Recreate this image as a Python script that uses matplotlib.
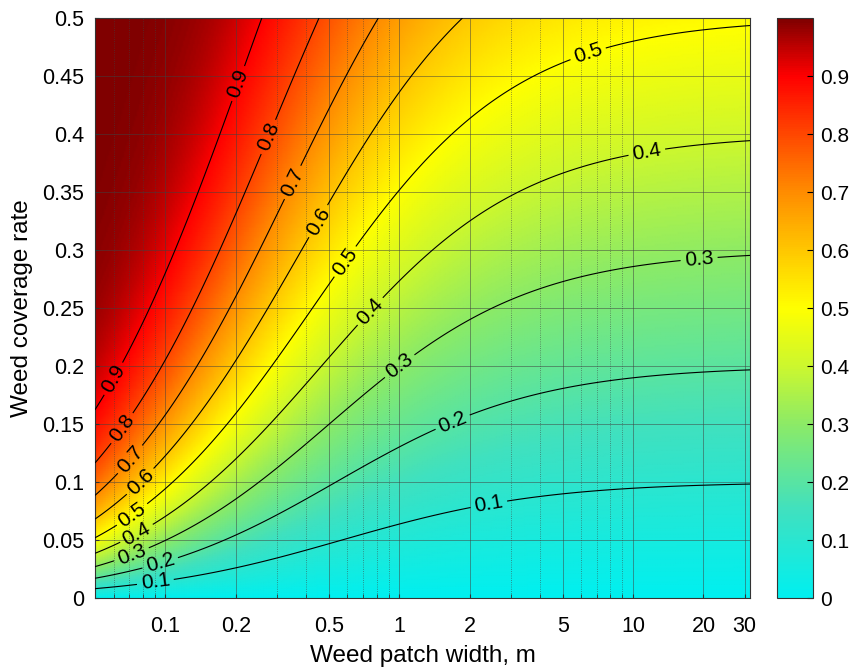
import numpy as np
import matplotlib
matplotlib.use('agg')
import matplotlib.pyplot as plt
from matplotlib.colors import LinearSegmentedColormap

plt.rcParams['font.family'] = ['Liberation Sans', 'DejaVu Sans']

# Model parameters: effective section width (m) and plotted ranges
section_width = 0.6
width_range = (0.05, 10 ** 1.5)
coverage_range = (0.0, 0.5)

contour_levels = [0.1, 0.2, 0.3, 0.4, 0.5, 0.6, 0.7, 0.8, 0.9]
x_ticks = [0.1, 0.2, 0.5, 1, 2, 5, 10, 20, 30]
x_tick_labels = ['0.1', '0.2', '0.5', '1', '2', '5', '10', '20', '30']
x_minor = [0.06, 0.07, 0.08, 0.09, 0.3, 0.4, 0.6, 0.7, 0.8, 0.9,
           3, 4, 6, 7, 8, 9]
y_ticks = [0, 0.05, 0.1, 0.15, 0.2, 0.25, 0.3, 0.35, 0.4, 0.45, 0.5]
y_tick_labels = ['0', '0.05', '0.1', '0.15', '0.2', '0.25', '0.3', '0.35', '0.4', '0.45', '0.5']
cbar_ticks = [0, 0.1, 0.2, 0.3, 0.4, 0.5, 0.6, 0.7, 0.8, 0.9]

# where the inline contour labels sit (width, coverage)
label_spots = [
    (0.215, 0.442), (0.295, 0.395), (0.369, 0.356), (0.506, 0.319),
    (0.616, 0.287), (0.81, 0.241), (1.03, 0.197), (1.73, 0.147), (2.44, 0.076),
    (6.5, 0.466), (11.5, 0.382), (19.2, 0.29),
    (0.0612, 0.188), (0.0689, 0.143), (0.073, 0.117), (0.082, 0.096),
    (0.072, 0.072), (0.078, 0.05), (0.073, 0.033), (0.097, 0.024), (0.091, 0.011),
]

cmap = LinearSegmentedColormap.from_list('weed', [
    (0.00, (0.00, 0.94, 0.94)),
    (0.15, (0.25, 0.88, 0.75)),
    (0.30, (0.55, 0.92, 0.40)),
    (0.40, (0.80, 0.97, 0.18)),
    (0.50, (1.00, 1.00, 0.00)),
    (0.60, (1.00, 0.78, 0.00)),
    (0.70, (1.00, 0.55, 0.00)),
    (0.80, (1.00, 0.28, 0.00)),
    (0.90, (1.00, 0.00, 0.00)),
    (1.00, (0.50, 0.00, 0.00)),
])

# work in log10(width) so the inline labels break the lines cleanly
lw = np.linspace(np.log10(width_range[0]), np.log10(width_range[1]), 400)
c = np.linspace(coverage_range[0], coverage_range[1], 300)
LW, C = np.meshgrid(lw, c)
P = 1 - (1 - C) ** (1 + section_width / 10 ** LW)

fig = plt.figure(figsize=(8.52, 6.70), dpi=100)
ax = fig.add_axes([95 / 852, 1 - 598 / 670, 655 / 852, 580 / 670])
cax = fig.add_axes([777 / 852, 1 - 598 / 670, 36 / 852, 580 / 670])

mesh = ax.pcolormesh(LW, C, P, cmap=cmap, vmin=0, vmax=1, shading='gouraud', zorder=0)
cs = ax.contour(LW, C, P, levels=contour_levels, colors='black', linewidths=0.8, zorder=3)
spots = [(np.log10(x), y) for x, y in label_spots]
ax.clabel(cs, fmt='%g', fontsize=15, inline=True, inline_spacing=4, manual=spots)

ax.set_xlim(np.log10(width_range[0]), np.log10(width_range[1]))
ax.set_ylim(*coverage_range)
ax.set_xticks(np.log10(x_ticks))
ax.set_xticklabels(x_tick_labels)
ax.set_xticks(np.log10(x_minor), minor=True)
ax.set_yticks(y_ticks)
ax.set_yticklabels(y_tick_labels)

ax.grid(True, which='major', color='#404040', linewidth=0.6, alpha=0.6, zorder=2)
ax.grid(True, which='minor', axis='x', color='#404040', linewidth=0.6,
        linestyle=':', alpha=0.7, zorder=2)
ax.set_axisbelow(False)
ax.tick_params(which='both', direction='in', labelsize=15.5, length=3, color='#333333')
ax.tick_params(axis='x', pad=13)
ax.tick_params(axis='y', pad=8)
for s in ax.spines.values():
    s.set_color('#333333')

ax.set_xlabel('Weed patch width, m', fontsize=17.5, labelpad=6)
ax.set_ylabel('Weed coverage rate', fontsize=17.5, labelpad=6)

cb = fig.colorbar(mesh, cax=cax, ticks=cbar_ticks)
cb.ax.tick_params(direction='in', labelsize=15, length=4, pad=5)
cb.ax.set_yticklabels([f'{t:g}' for t in cbar_ticks])
cb.outline.set_edgecolor('#333333')

fig.savefig('out.png', dpi=100)
